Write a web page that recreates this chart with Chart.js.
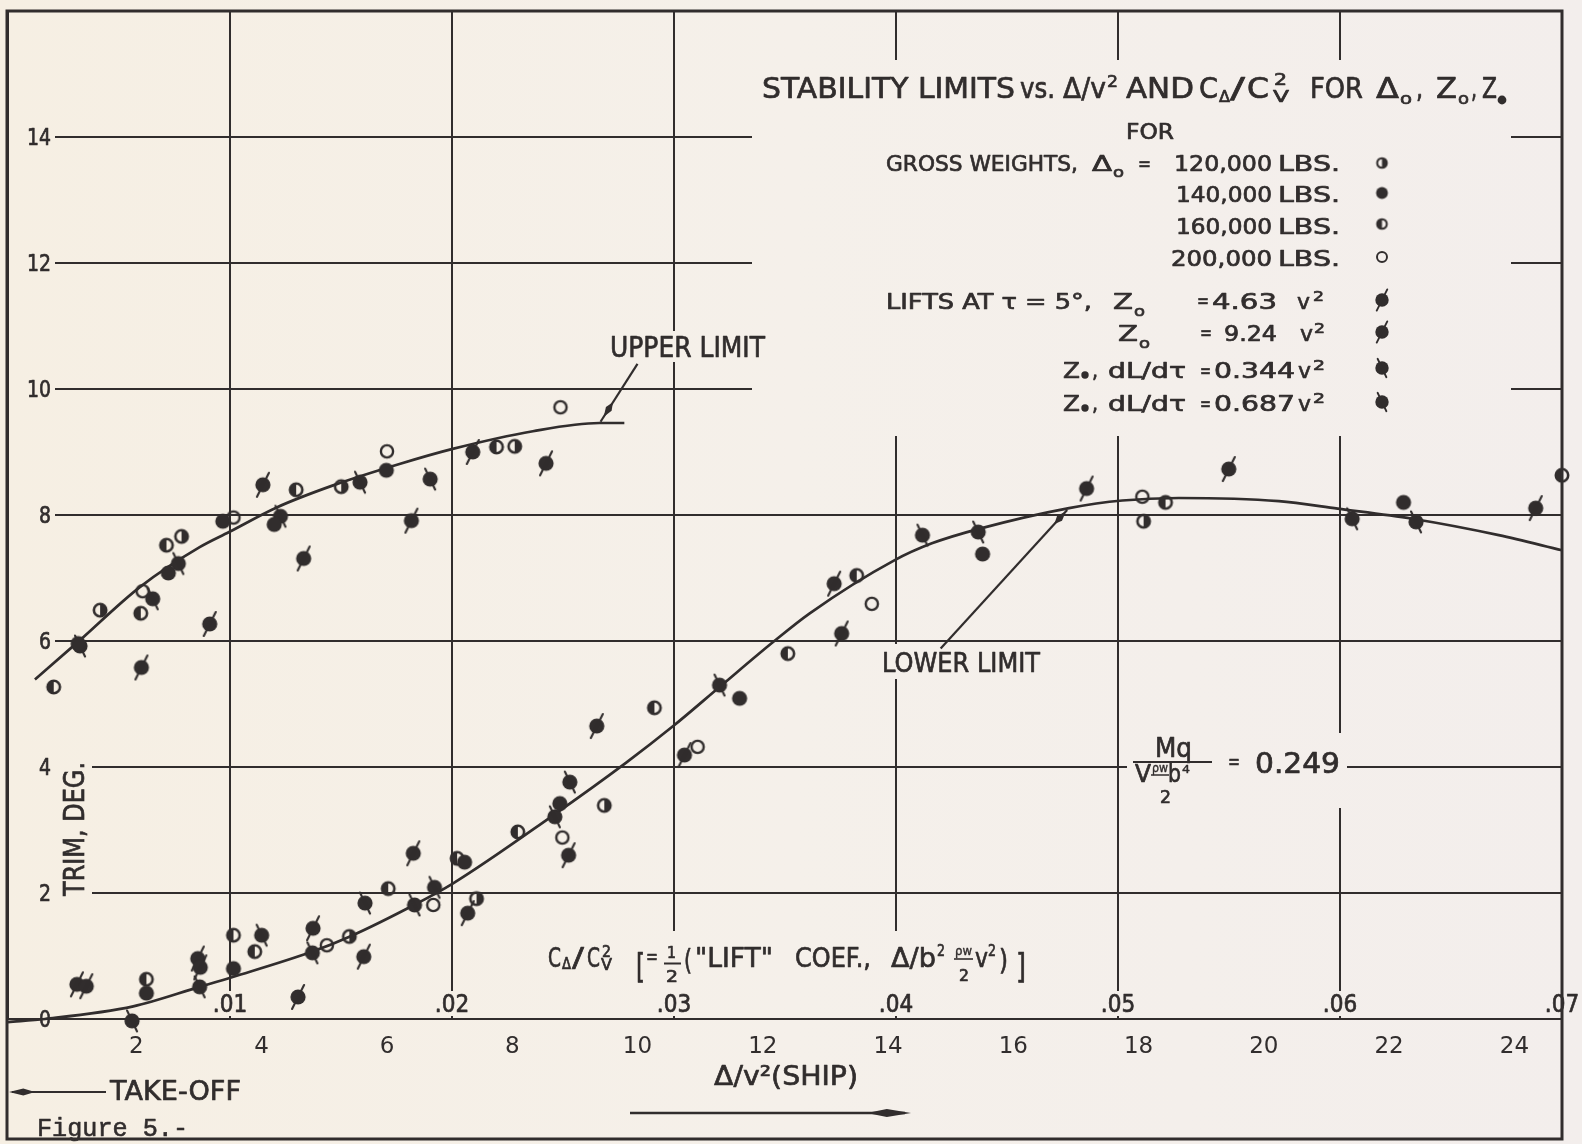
<!DOCTYPE html>
<html><head><meta charset="utf-8">
<script src="https://cdn.jsdelivr.net/npm/chart.js@4.4.1/dist/chart.umd.min.js"></script>
<style>html,body{margin:0;padding:0;background:#f5efe8;}canvas{display:block;}</style>
</head><body>
<canvas id="c" width="1582" height="1144"></canvas>
<script>
// ---------------- DATA ----------------
const xTickValues = [2,4,6,8,10,12,14,16,18,20,22,24];            // Δ/v² (ship)
const yTickValues = [0,2,4,6,8,10,12,14,16];                       // trim, deg
const yTickLabels = ['0','2','4','6','8','10','12','14',''];
const cTickValues = [0,0.01,0.02,0.03,0.04,0.05,0.06,0.07];         // CΔ/CV²
const cTickLabels = ['','.01','.02','.03','.04','.05','.06','.07'];

const upperLimit = [[0.38,5.39],[1.05,5.97],[2.06,6.86],[3.01,7.49],[3.48,7.73],[4.24,8.12],[5.14,8.47],[6.20,8.81],[7.05,9.05],[8.33,9.33],[9.39,9.46],[9.79,9.46]];
const lowerLimit = [[-0.05,-0.05],[0.54,0.0],[1.95,0.20],[3.01,0.51],[3.55,0.67],[4.81,1.07],[5.41,1.31],[6.47,1.83],[7.05,2.15],[8.62,3.21],[9.82,4.07],[10.57,4.65],[11.31,5.27],[12.16,5.98],[12.75,6.44],[14.10,7.28],[14.70,7.55],[15.45,7.78],[16.89,8.11],[17.74,8.23],[18.64,8.27],[20.24,8.22],[21.18,8.10],[22.37,7.94],[23.75,7.68],[24.76,7.44]];

const gw120 = [[1.42,6.49],[2.72,7.66],[5.27,8.45],[8.04,9.09],[5.40,1.31],[7.43,1.91],[9.47,3.39],[18.08,7.90]];
const gw140 = [[1.07,5.96],[2.51,7.08],[3.38,7.90],[4.20,7.85],[5.99,8.71],[2.16,0.41],[3.55,0.80],[7.24,2.49],[8.76,3.42],[11.63,5.09],[15.51,7.38],[22.23,8.20]];
const gw160 = [[0.68,5.27],[2.07,6.44],[2.48,7.52],[4.55,8.40],[7.75,9.08],[2.16,0.63],[3.55,1.33],[3.89,1.07],[6.02,2.07],[7.12,2.55],[8.09,2.97],[10.27,4.94],[12.40,5.80],[13.50,7.04],[18.43,8.20],[24.76,8.63]];
const gw200 = [[2.10,6.79],[3.55,7.96],[6.00,9.01],[8.77,9.71],[5.04,1.17],[6.74,1.81],[8.80,2.88],[10.96,4.32],[13.74,6.59],[18.06,8.29]];
const liftZo = [[2.08,5.58],[3.17,6.27],[4.02,8.48],[4.67,7.31],[6.39,7.91],[7.37,9.00],[8.54,8.82],[1.05,0.55],[1.20,0.52],[2.98,0.96],[3.02,0.82],[4.58,0.35],[4.82,1.44],[5.63,0.99],[6.42,2.63],[7.29,1.68],[8.90,2.60],[9.35,4.65],[10.75,4.19],[13.14,6.91],[13.26,6.12],[17.17,8.42],[19.44,8.73],[24.34,8.11]];
const liftZt = [[1.10,5.92],[2.26,6.67],[2.67,7.23],[4.30,7.98],[5.57,8.52],[6.69,8.57],[1.93,-0.03],[3.01,0.51],[4.00,1.33],[4.81,1.05],[5.65,1.84],[6.44,1.81],[6.76,2.09],[8.68,3.21],[8.92,3.76],[11.31,5.30],[14.55,7.68],[15.44,7.73],[21.41,7.94],[22.43,7.89]];

const upperLeader = [[10.0,10.40],[9.41,9.48]];
const lowerLeader = [[14.84,5.88],[16.86,8.08]];

// ---------------- STYLE ----------------
const INK = '#312d2d';
const FONT = '"DejaVu Sans", "Liberation Sans", Arial, sans-serif';
const MONO = '"Liberation Mono", "DejaVu Sans Mono", monospace';
let grad = null;
function paper(ctx){
  if(!grad){ grad = ctx.createLinearGradient(0,0,1582,0);
    grad.addColorStop(0,'#f6efe3'); grad.addColorStop(0.5,'#f5f0ea'); grad.addColorStop(1,'#f3eeec'); }
  return grad;
}
function gap(ctx,x1,y1,x2,y2){ ctx.save(); ctx.fillStyle = paper(ctx); ctx.fillRect(x1,y1,x2-x1,y2-y1); ctx.restore(); }
function txt(ctx,s,x,base,size,align,sx,font,bold){
  align = align||'left'; sx = sx||0.87; font = font||FONT; bold = (bold===undefined)?0.7:bold;
  ctx.save(); ctx.font = size+'px '+font; ctx.fillStyle = INK; ctx.strokeStyle = INK; ctx.textBaseline='alphabetic'; ctx.textAlign='left';
  const w = ctx.measureText(s).width*sx;
  const x0 = align==='left'?x:(align==='right'?x-w:x-w/2);
  ctx.translate(x0,base); ctx.scale(sx,1); ctx.fillText(s,0,0);
  if(bold>0){ ctx.lineWidth = bold; ctx.lineJoin='round'; ctx.strokeText(s,0,0); }
  ctx.restore(); return x0+w;
}
function fit(ctx,s,x1,x2,base,size,font,bold){
  font = font||FONT;
  ctx.save(); ctx.font = size+'px '+font; const w = ctx.measureText(s).width; ctx.restore();
  return txt(ctx,s,x1,base,size,'left',(x2-x1)/w,font,bold);
}
function hline(ctx,x1,x2,y,lw){ ctx.save(); ctx.strokeStyle=INK; ctx.lineWidth=lw||2; ctx.beginPath(); ctx.moveTo(x1,y); ctx.lineTo(x2,y); ctx.stroke(); ctx.restore(); }
function dot(ctx,x,y,r){ ctx.save(); ctx.fillStyle=INK; ctx.beginPath(); ctx.arc(x,y,r,0,Math.PI*2); ctx.fill(); ctx.restore(); }
function dart(ctx,tx,ty,ux,uy,len,hw){
  const bx = tx-ux*len, by = ty-uy*len, mx = tx-ux*len*0.55, my = ty-uy*len*0.55;
  ctx.save(); ctx.fillStyle=INK; ctx.beginPath(); ctx.moveTo(tx,ty);
  ctx.lineTo(mx-uy*hw,my+ux*hw); ctx.lineTo(bx,by); ctx.lineTo(mx+uy*hw,my-ux*hw); ctx.closePath(); ctx.fill(); ctx.restore();
}
function leader(ctx,p1,p2,tipBack){
  const dx=p2[0]-p1[0], dy=p2[1]-p1[1], L=Math.hypot(dx,dy), ux=dx/L, uy=dy/L;
  ctx.save(); ctx.strokeStyle=INK; ctx.lineWidth=2.2; ctx.beginPath(); ctx.moveTo(p1[0],p1[1]); ctx.lineTo(p2[0],p2[1]); ctx.stroke(); ctx.restore();
  dart(ctx,p2[0]-ux*tipBack,p2[1]-uy*tipBack,ux,uy,17,3.4);
}

// ---------------- MARKERS ----------------
function marker(type,scale){
  scale = scale||1;
  const S = Math.ceil(36*scale); const c = document.createElement('canvas'); c.width=S; c.height=S;
  const g = c.getContext('2d'); g.translate(S/2,S/2); g.scale(scale,scale);
  g.fillStyle=INK; g.strokeStyle=INK; g.lineCap='round';
  const r = 7.6;
  const full=()=>{ g.beginPath(); g.arc(0,0,r,0,Math.PI*2); g.fill(); };
  if(type==='open'){ g.lineWidth=2.4; g.beginPath(); g.arc(0,0,r-1.5,0,Math.PI*2); g.stroke(); }
  else if(type==='filled'){ full(); }
  else if(type==='halfL'||type==='halfR'){
    g.lineWidth=2.6; g.beginPath(); g.arc(0,0,r-1.4,0,Math.PI*2); g.stroke();
    g.beginPath(); if(type==='halfL') g.arc(0,0,r-1,Math.PI/2,Math.PI*1.5); else g.arc(0,0,r-1,-Math.PI/2,Math.PI/2);
    g.closePath(); g.fill();
  }
  else if(type==='slash'){ full(); g.lineWidth=2.1; g.beginPath(); g.moveTo(-6,12); g.lineTo(6,-12); g.stroke(); }
  else if(type==='back'){ full(); g.lineWidth=2.1; g.beginPath(); g.moveTo(-5,-10.5); g.lineTo(5,10.5); g.stroke(); }
  return c;
}
const M = { w120: marker('halfR'), w140: marker('filled'), w160: marker('halfL'), w200: marker('open'), zo: marker('slash'), zt: marker('back') };
const ML = { w120: marker('halfR',0.78), w140: marker('filled',0.78), w160: marker('halfL',0.78), w200: marker('open',0.82), zo: marker('slash',0.88), zt: marker('back',0.88) };

const pts = a => a.map(p=>({x:p[0],y:p[1]}));
function scatterSet(label,arr,img){
  return { label, data: pts(arr), showLine:false, pointStyle: img, pointRadius: 7, pointHoverRadius: 7, clip:false, order:1 };
}
function curveSet(label,arr){
  return { label, data: pts(arr), showLine:true, borderColor: INK, borderWidth: 2.7, pointRadius:0, pointHoverRadius:0, fill:false, cubicInterpolationMode:'monotone', clip:false, order:2 };
}

// ---------------- PLUGINS ----------------
const deco = {
  id:'deco',
  beforeDraw(chart){ const ctx=chart.ctx; ctx.save(); ctx.fillStyle=paper(ctx); ctx.fillRect(0,0,chart.width,chart.height); ctx.restore(); },
  beforeDatasetsDraw(chart){
    const ctx = chart.ctx, xs = chart.scales.x, ys = chart.scales.y, xc = chart.scales.xc;
    // gaps in the grid where lettering sits
    gap(ctx,9,12,55,1013);            // y tick labels
    gap(ctx,9,700,92,906);            // TRIM, DEG.
    gap(ctx,752,60,1511,436);         // title + key
    gap(ctx,605,331,769,362);         // UPPER LIMIT
    gap(ctx,878,644,1045,679);        // LOWER LIMIT
    gap(ctx,545,931,1031,992);        // CΔ/CV² label
    gap(ctx,9,991,1561,1016);         // CΔ/CV² tick labels
    gap(ctx,1127,733,1347,808);       // Mq formula

    // y tick labels (inside frame)
    yTickValues.forEach((v,i)=>{ const lab=yTickLabels[i]; if(!lab) return;
      const y = ys.getPixelForValue(v); txt(ctx,lab,51,y+8,23,'right',0.82); });
    // CΔ/CV² tick labels just above the zero line
    cTickValues.forEach((v,i)=>{ const lab=cTickLabels[i]; if(!lab) return;
      txt(ctx,lab,xc.getPixelForValue(v),1012,24,'center',0.9); });

    // TRIM, DEG.
    ctx.save(); ctx.translate(84,829); ctx.rotate(-Math.PI/2);
    ctx.font='28px '+FONT; const tw=ctx.measureText('TRIM, DEG.').width; ctx.fillStyle=INK; ctx.strokeStyle=INK; ctx.lineWidth=0.7;
    ctx.scale(134/tw,1); ctx.fillText('TRIM, DEG.',-tw/2,0); ctx.strokeText('TRIM, DEG.',-tw/2,0); ctx.restore();

    // limit labels
    fit(ctx,'UPPER LIMIT',610,765,357,28);
    fit(ctx,'LOWER LIMIT',882,1040,672,27);

    // title
    const T=98;
    fit(ctx,'STABILITY LIMITS',762,1015,T,28);
    fit(ctx,'vs.',1020,1055,T,28);
    fit(ctx,'Δ/v',1063,1106,T,28); fit(ctx,'2',1107,1118,87,16);
    fit(ctx,'AND',1126,1194,T,28);
    fit(ctx,'C',1199,1218,T,28); fit(ctx,'Δ',1219,1230,102,15); fit(ctx,'/',1230,1245,T,28);
    fit(ctx,'C',1247,1269,T,28); fit(ctx,'2',1274,1287,85,16); fit(ctx,'V',1273,1289,102,15);
    fit(ctx,'FOR',1310,1363,T,28);
    fit(ctx,'Δ',1376,1399,T,28); fit(ctx,'o',1400,1412,104,16); fit(ctx,',',1416,1423,T,28);
    fit(ctx,'Z',1436,1457,T,28); fit(ctx,'o',1458,1469,104,16); fit(ctx,',',1471,1477,T,28);
    fit(ctx,'Z',1482,1497,T,28); dot(ctx,1502,100,4.4);

    // key
    const L=22;
    fit(ctx,'FOR',1126,1174,139,L);
    fit(ctx,'GROSS WEIGHTS,',886,1078,171,L);
    fit(ctx,'Δ',1092,1112,171,L); fit(ctx,'o',1113,1124,177,14); fit(ctx,'=',1138,1151,170,20);
    [['120,000',1174,171],['140,000',1176,202],['160,000',1176,234],['200,000',1171,266]].forEach(r=>{
      fit(ctx,r[0],r[1],1272,r[2],L); fit(ctx,'LBS.',1278,1340,r[2],L); });
    fit(ctx,'LIFTS AT τ = 5°,',886,1092,309,L);
    fit(ctx,'Z',1113,1133,309,L); fit(ctx,'o',1134,1145,316,14);
    fit(ctx,'=',1197,1209,307,20); fit(ctx,'4.63',1212,1277,309,L); fit(ctx,'v',1297,1310,309,L); fit(ctx,'2',1313,1324,301,14);
    fit(ctx,'Z',1118,1138,341,L); fit(ctx,'o',1139,1150,348,14);
    fit(ctx,'=',1200,1212,339,20); fit(ctx,'9.24',1224,1277,341,L); fit(ctx,'v',1300,1313,341,L); fit(ctx,'2',1314,1325,333,14);
    [[378,'0.344'],[411,'0.687']].forEach(r=>{
      const b=r[0];
      fit(ctx,'Z',1063,1080,b,L); dot(ctx,1085,b-3,3.7); fit(ctx,',',1092,1098,b,L);
      fit(ctx,'dL/dτ',1108,1186,b,L); fit(ctx,'=',1200,1211,b-1,20); fit(ctx,r[1],1214,1295,b,L);
      fit(ctx,'v',1298,1311,b,L); fit(ctx,'2',1313,1325,b-8,14);
    });
    const km=[['w120',163],['w140',193],['w160',224],['w200',257],['zo',300],['zo',332],['zt',368],['zt',402]];
    km.forEach(k=>{ const im=ML[k[0]]; ctx.drawImage(im,1382-im.width/2,k[1]-im.height/2); });

    // Mq formula
    fit(ctx,'Mq',1155,1192,757,26);
    hline(ctx,1133,1212,762,2.2);
    fit(ctx,'V',1135,1151,782,25);
    fit(ctx,'ρw',1152,1168,772,12,FONT,0.4);
    hline(ctx,1151,1169,775,1.5);
    fit(ctx,'2',1160,1171,803,17);
    fit(ctx,'b',1168,1181,782,25);
    fit(ctx,'4',1182,1190,773,11,FONT,0.4);
    fit(ctx,'=',1228,1240,769,22);
    fit(ctx,'0.249',1255,1340,773,28);

    // CΔ/CV² [= ½("LIFT" COEF., Δ/b² ρw/2 v²)]
    const B=967;
    fit(ctx,'C',548,561,B,27); fit(ctx,'Δ',562,571,969,15); fit(ctx,'/',572,584,B,27);
    fit(ctx,'C',587,600,B,27); fit(ctx,'2',602,611,957,16); fit(ctx,'V',601,612,970,15);
    fit(ctx,'[',636,645,978,34); fit(ctx,'=',646,658,964,22);
    fit(ctx,'1',667,676,958,16); hline(ctx,664,681,963.5,2); fit(ctx,'2',666,678,982,16);
    fit(ctx,'(',684,692,970,28);
    fit(ctx,'"LIFT"',695,773,B,27);
    fit(ctx,'COEF.,',795,871,B,27);
    fit(ctx,'Δ/b',891,936,B,27); fit(ctx,'2',937,945,956,15);
    fit(ctx,'ρw',955,972,955,13,FONT,0.4); hline(ctx,954,973,959,1.6); fit(ctx,'2',959,969,981,16);
    fit(ctx,'v',975,988,B,27); fit(ctx,'2',988,996,956,15);
    fit(ctx,')',999,1008,970,28); fit(ctx,']',1016,1026,978,34);

    // leaders
    const P = p=>[xs.getPixelForValue(p[0]), ys.getPixelForValue(p[1])];
    leader(ctx,P(upperLeader[0]),P(upperLeader[1]),6);
    leader(ctx,P(lowerLeader[0]),P(lowerLeader[1]),2);
  },
  afterDraw(chart){
    const ctx = chart.ctx;
    // bottom lettering
    fit(ctx,'Δ/v²(SHIP)',714,858,1085,27);
    fit(ctx,'TAKE-OFF',110,241,1100,27);
    hline(ctx,12,106,1092,2.2); dart(ctx,9,1092,-1,0,26,3.4);
    hline(ctx,630,905,1113,2.4); dart(ctx,911,1113,1,0,44,4);
    fit(ctx,'Figure 5.-',37,188,1136,26,MONO,0.6);
    // frame
    ctx.save(); ctx.strokeStyle=INK; ctx.lineWidth=3; ctx.strokeRect(7,11,1555,1128); ctx.restore();
  }
};

// ---------------- CHART ----------------
new Chart(document.getElementById('c'), {
  type:'scatter',
  data:{ datasets:[
    curveSet('Upper limit', upperLimit),
    curveSet('Lower limit', lowerLimit),
    scatterSet('Δo = 120,000 lbs', gw120, M.w120),
    scatterSet('Δo = 140,000 lbs', gw140, M.w140),
    scatterSet('Δo = 160,000 lbs', gw160, M.w160),
    scatterSet('Δo = 200,000 lbs', gw200, M.w200),
    scatterSet('Lifts Zo', liftZo, M.zo),
    scatterSet('Lifts Zθ', liftZt, M.zt)
  ]},
  options:{
    responsive:false, animation:false, devicePixelRatio:1,
    layout:{ padding:{ left:0, right:20, top:0, bottom:0 } },
    plugins:{ legend:{display:false}, tooltip:{enabled:false} },
    scales:{
      x:{ type:'linear', position:'bottom', min:-0.05, max:24.76,
          grid:{display:false}, border:{display:false},
          afterBuildTicks: s=>{ s.ticks = xTickValues.map(v=>({value:v})); },
          ticks:{ font:{family:FONT,size:23}, color:INK, padding:6, maxRotation:0, autoSkip:false },
          afterFit: s=>{ s.height = 125; } },
      xc:{ type:'linear', position:'top', min:0, max:0.07,
          grid:{ color:INK, lineWidth:2, drawTicks:false }, border:{display:false},
          afterBuildTicks: s=>{ s.ticks = cTickValues.map(v=>({value:v})); },
          ticks:{ display:false }, afterFit: s=>{ s.height = 11; } },
      y:{ type:'linear', min:0, max:16,
          grid:{ color:INK, lineWidth:2, drawTicks:false }, border:{display:false},
          afterBuildTicks: s=>{ s.ticks = yTickValues.map(v=>({value:v})); },
          ticks:{ display:false }, afterFit: s=>{ s.width = 8; } }
    }
  },
  plugins:[deco]
});
</script>
</body></html>
